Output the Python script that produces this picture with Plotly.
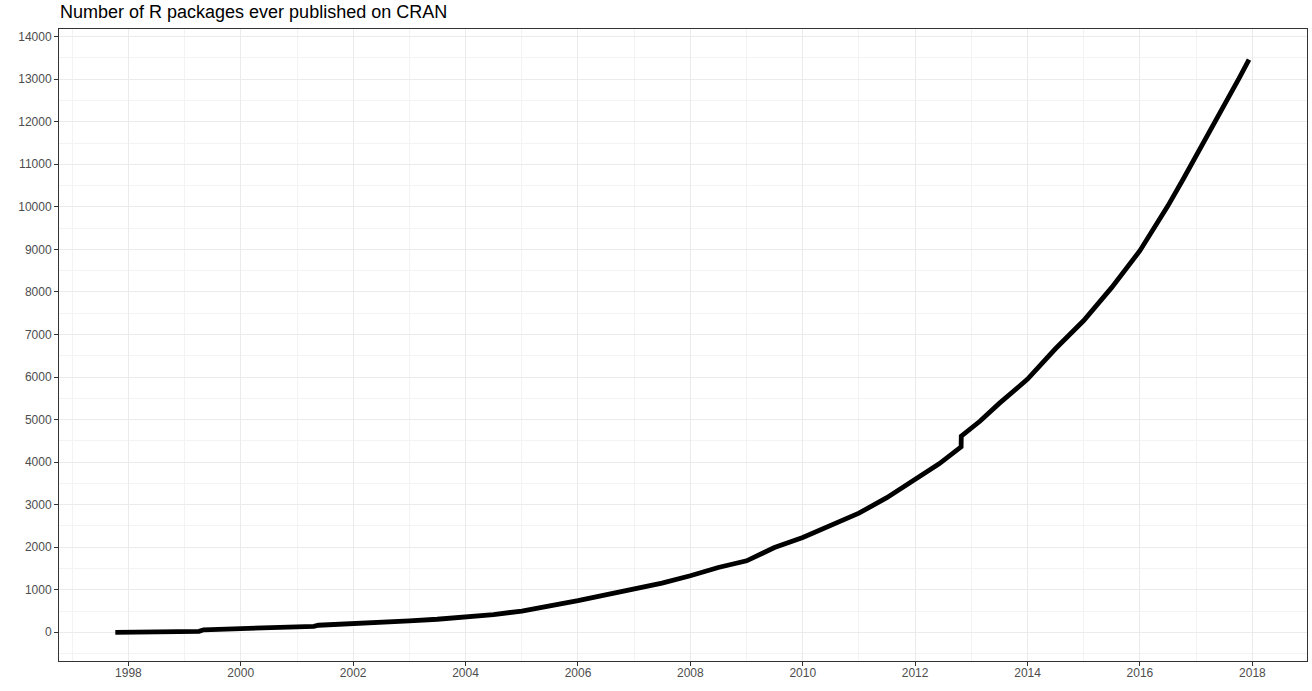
import plotly.graph_objects as go

# Data
dates = [
    "1997-10-08", "1998-01-01", "1998-07-01", "1999-01-01", "1999-04-05", "1999-05-05",
    "2000-01-01", "2001-01-01", "2001-04-20", "2001-05-20", "2002-01-01", "2002-11-01",
    "2003-01-01", "2003-07-01", "2004-01-01", "2004-07-01", "2005-01-01", "2005-07-01",
    "2005-09-01", "2006-01-01", "2006-07-01", "2007-01-01", "2007-07-01", "2008-01-01",
    "2008-07-01", "2009-01-01", "2009-02-15", "2009-07-01", "2010-01-01", "2010-07-01",
    "2011-01-01", "2011-07-01", "2012-01-01", "2012-06-05", "2012-10-26", "2012-10-27",
    "2013-02-25", "2013-07-01", "2014-01-01", "2014-07-01", "2015-01-01",
    "2015-07-01", "2016-01-01", "2016-03-25", "2016-07-01", "2016-10-08", "2017-01-01",
    "2017-03-18", "2017-06-03", "2017-07-24", "2017-10-08", "2017-12-10",
]
packages = [
    0, 2, 8, 15, 22, 58,
    85, 120, 140, 165, 195, 250,
    270, 306, 350, 415, 500, 603,
    664, 742, 875, 1000, 1156, 1328,
    1523, 1680, 1758, 1992, 2227, 2516,
    2800, 3164, 3594, 3960, 4359, 4609,
    4960, 5380, 5950, 6664, 7328,
    8100, 8969, 9437, 10023, 10648, 11195,
    11680, 12211, 12523, 13031, 13461,
]

title_text = "Number of R packages ever published on CRAN"
x_range = ["1996-10-07", "2018-12-22"]
y_range = [-675, 14180]

fig = go.Figure()
fig.add_trace(go.Scatter(
    x=dates, y=packages, mode="lines",
    line=dict(color="black", width=4.8),
    hoverinfo="x+y", showlegend=False,
))

axis_common = dict(
    showline=True, linecolor="#333333", linewidth=1, mirror=True,
    ticks="outside", ticklen=4, tickwidth=1, tickcolor="#333333",
    tickfont=dict(family="Liberation Sans, Arial, sans-serif", size=12, color="#4D4D4D"),
    showgrid=True, gridcolor="#EBEBEB", gridwidth=1.1,
    zeroline=False, automargin=False,
)

fig.update_xaxes(
    type="date", range=x_range,
    tick0="1998-01-01", dtick="M24", tickformat="%Y",
    ticklabelstandoff=-3,
    minor=dict(dtick="M12", tick0="1997-01-01", showgrid=True, gridcolor="#F3F3F3", gridwidth=0.6, ticks=""),
    **axis_common,
)
fig.update_yaxes(
    range=y_range, tick0=0, dtick=1000, tickformat="d",
    minor=dict(dtick=500, tick0=-500, showgrid=True, gridcolor="#F3F3F3", gridwidth=0.6, ticks=""),
    **axis_common,
)

fig.add_annotation(
    text=title_text, xref="paper", yref="paper", x=0, y=1,
    xanchor="left", yanchor="bottom", showarrow=False,
    xshift=-1, yshift=5,
    font=dict(family="Liberation Sans, Arial, sans-serif", size=18, color="black"),
)

fig.update_layout(
    width=1312, height=691,
    margin=dict(l=59, r=5, t=29, b=30),
    paper_bgcolor="white", plot_bgcolor="white",
)

# remove the default 8px page margin so the figure sits at the window's corner
fig.write_html(
    "out.html",
    config={"displayModeBar": False},
    post_script="document.body.style.margin='0';",
)
